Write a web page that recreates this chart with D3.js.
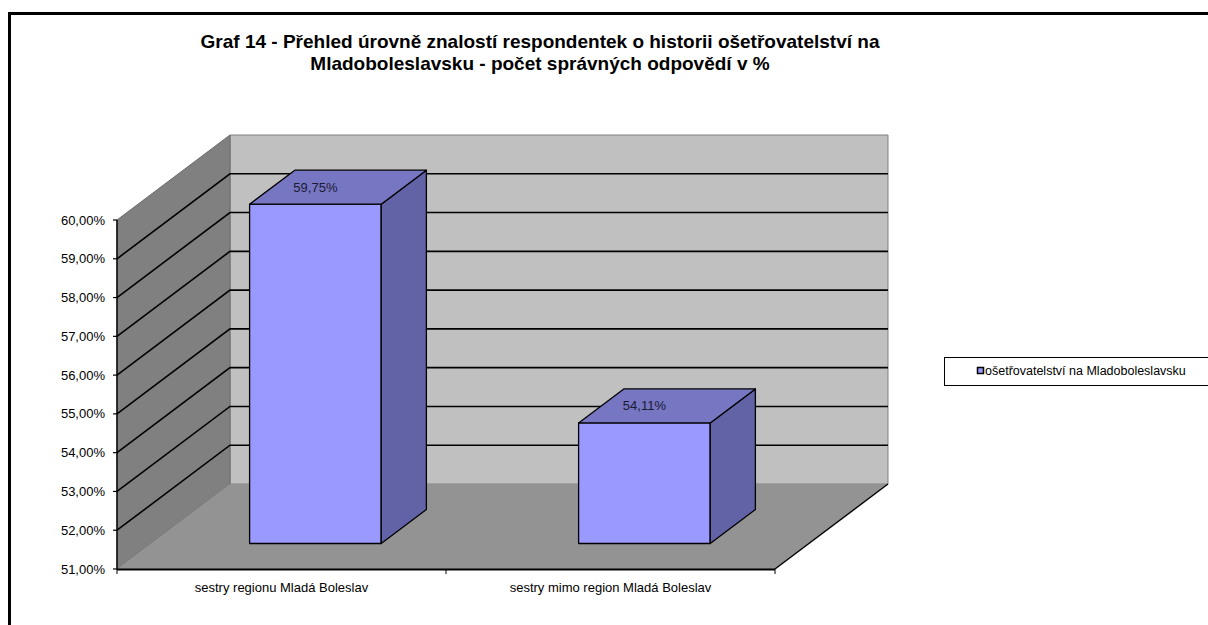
<!DOCTYPE html>
<html>
<head>
<meta charset="utf-8">
<script src="https://cdn.jsdelivr.net/npm/d3@7"></script>
<style>
  html, body { margin: 0; padding: 0; background: #fff; }
  svg { display: block; font-family: "Liberation Sans", Arial, sans-serif; }
</style>
</head>
<body>
<svg id="chart" width="1208" height="625"></svg>
<script>
// ---- data ----
const categories = ["sestry regionu Mladá Boleslav", "sestry mimo region Mladá Boleslav"];
const values = [59.75, 54.11];
const valueLabels = ["59,75%", "54,11%"];
const yTicks = [51, 52, 53, 54, 55, 56, 57, 58, 59, 60];
const seriesName = "ošetřovatelství na Mladoboleslavsku";
const titleLines = [
  "Graf 14 - Přehled úrovně znalostí respondentek o historii ošetřovatelství na",
  "Mladoboleslavsku - počet správných odpovědí v %"
];

// ---- layout ----
const svg = d3.select("#chart");
const W = 1208, H = 625;
const x0 = 117, x1 = 775;           // front plot extents
const yBottom = 569, yTop = 220;    // front value range
const DX = 113, DY = -85;           // depth projection
const barFront = 0.3, barBack = 0.7;

const y = d3.scaleLinear().domain([51, 60]).range([yBottom, yTop]);
const x = d3.scaleBand().domain(categories).range([x0, x1]);

const P = (px, v, d) => [px + d * DX, y(v) + d * DY];
const poly = pts => "M" + pts.map(p => p.join(",")).join("L") + "Z";
const line = pts => "M" + pts.map(p => p.join(",")).join("L");

// outer frame
svg.append("rect").attr("x", 9.5).attr("y", 13.5).attr("width", 1300).attr("height", 700)
  .attr("fill", "#fff").attr("stroke", "#000").attr("stroke-width", 3);

// title
const title = svg.append("text").attr("text-anchor", "middle")
  .attr("font-weight", "bold").attr("font-size", 19).attr("fill", "#000");
titleLines.forEach((t, i) => {
  title.append("tspan").attr("x", 540).attr("y", 48 + i * 21.5).text(t);
});

const vMin = y.domain()[0], vMax = y.domain()[1];

// back wall
svg.append("path")
  .attr("d", poly([P(x0, vMin, 1), P(x1, vMin, 1), P(x1, vMax, 1), P(x0, vMax, 1)]))
  .attr("fill", "#c0c0c0").attr("stroke", "#808080").attr("stroke-width", 1);

// side wall
svg.append("path")
  .attr("d", poly([P(x0, vMin, 0), P(x0, vMin, 1), P(x0, vMax, 1), P(x0, vMax, 0)]))
  .attr("fill", "#808080").attr("stroke", "#6a6a6a").attr("stroke-width", 1);

// floor
svg.append("path")
  .attr("d", poly([P(x0, vMin, 0), P(x1, vMin, 0), P(x1, vMin, 1), P(x0, vMin, 1)]))
  .attr("fill", "#939393").attr("stroke", "none");

// gridlines (back wall + side wall)
const grid = yTicks.filter(v => v > vMin && v < vMax);
svg.append("g").selectAll("path").data(grid).join("path")
  .attr("d", v => line([P(x0, v, 0), P(x0, v, 1), P(x1, v, 1)]))
  .attr("fill", "none").attr("stroke", "#000").attr("stroke-width", 1.6);

// floor edges
svg.append("path").attr("d", line([P(x1, vMin, 0), P(x1, vMin, 1)]))
  .attr("stroke", "#000").attr("stroke-width", 1.4).attr("fill", "none");

// bars
const hw = x.bandwidth() * 0.2;
const bars = svg.append("g");
categories.forEach((c, i) => {
  const cx = x(c) + x.bandwidth() / 2;
  const v = values[i];
  const L = cx - hw, R = cx + hw;
  const g = bars.append("g");
  // front
  g.append("path").attr("d", poly([P(L, vMin, barFront), P(R, vMin, barFront), P(R, v, barFront), P(L, v, barFront)]))
    .attr("fill", "#9999ff").attr("stroke", "#000").attr("stroke-width", 1.3).attr("stroke-linejoin", "round");
  // side
  g.append("path").attr("d", poly([P(R, vMin, barFront), P(R, vMin, barBack), P(R, v, barBack), P(R, v, barFront)]))
    .attr("fill", "#6262a6").attr("stroke", "#000").attr("stroke-width", 1.3).attr("stroke-linejoin", "round");
  // top
  g.append("path").attr("d", poly([P(L, v, barFront), P(R, v, barFront), P(R, v, barBack), P(L, v, barBack)]))
    .attr("fill", "#7676c2").attr("stroke", "#000").attr("stroke-width", 1.3).attr("stroke-linejoin", "round");
  // label
  const mid = P(cx, v, (barFront + barBack) / 2);
  g.append("text").attr("x", cx + barFront * DX).attr("y", mid[1])
    .attr("dy", "0.35em").attr("text-anchor", "middle").attr("font-size", 13)
    .attr("fill", "#1a1a33").text(valueLabels[i]);
});

// value axis
const yAxis = svg.append("g");
yAxis.append("line").attr("x1", x0).attr("x2", x0).attr("y1", y(vMin)).attr("y2", y(vMax))
  .attr("stroke", "#000").attr("stroke-width", 1.4);
yAxis.selectAll("line.tick").data(yTicks).join("line").attr("class", "tick")
  .attr("x1", x0 - 4).attr("x2", x0).attr("y1", d => y(d)).attr("y2", d => y(d))
  .attr("stroke", "#000").attr("stroke-width", 1.2);
yAxis.selectAll("text").data(yTicks).join("text")
  .attr("x", x0 - 12).attr("y", d => y(d)).attr("dy", "0.35em")
  .attr("text-anchor", "end").attr("font-size", 13).attr("fill", "#000")
  .text(d => d3.format(".2f")(d).replace(".", ",") + "%");

// category axis
const xAxis = svg.append("g");
xAxis.append("line").attr("x1", x0).attr("x2", x1).attr("y1", yBottom + 0.5).attr("y2", yBottom + 0.5)
  .attr("stroke", "#000").attr("stroke-width", 2);
xAxis.selectAll("line.tick").data([x0, ...categories.map(c => x(c) + x.bandwidth())]).join("line")
  .attr("class", "tick").attr("x1", d => d).attr("x2", d => d)
  .attr("y1", yBottom).attr("y2", yBottom + 5).attr("stroke", "#000").attr("stroke-width", 1);
xAxis.selectAll("text").data(categories).join("text")
  .attr("x", d => x(d) + x.bandwidth() / 2).attr("y", 587).attr("dy", "0.35em")
  .attr("text-anchor", "middle").attr("font-size", 13).attr("fill", "#000").text(d => d);

// legend
const lg = svg.append("g");
lg.append("rect").attr("x", 944.5).attr("y", 357.5).attr("width", 300).attr("height", 28)
  .attr("fill", "#fff").attr("stroke", "#000").attr("stroke-width", 1);
lg.append("rect").attr("x", 977.5).attr("y", 367.5).attr("width", 6).attr("height", 6)
  .attr("fill", "#9999ff").attr("stroke", "#000").attr("stroke-width", 1.5);
lg.append("text").attr("x", 985).attr("y", 371).attr("dy", "0.35em")
  .attr("font-size", 12.5).attr("fill", "#000").text(seriesName);
</script>
</body>
</html>
